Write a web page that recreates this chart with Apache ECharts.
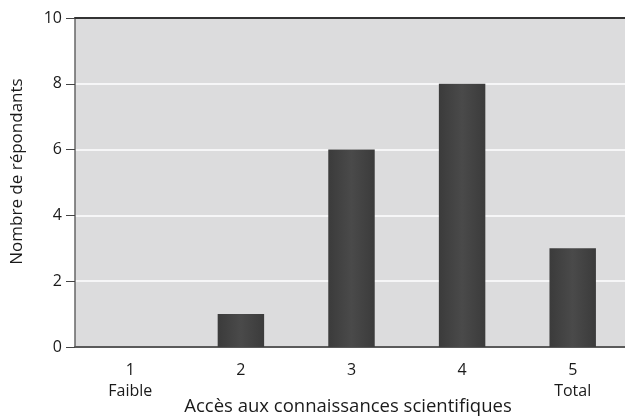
<!DOCTYPE html>
<html><head><meta charset="utf-8">
<script src="https://cdn.jsdelivr.net/npm/echarts@6/dist/echarts.min.js"></script>
<style>html,body{margin:0;padding:0;background:#fff}#c{width:625px;height:418px}</style>
</head><body><div id="c"></div>
<script>
const categories = ['1\nFaible', '2', '3', '4', '5\nTotal'];
const values = [0, 1, 6, 8, 3];
const yTicks = [0, 2, 4, 6, 8, 10];
const xTitle = 'Accès aux connaissances scientifiques';
const yTitle = 'Nombre de répondants';

const font = 'Open Sans';
const chart = echarts.init(document.getElementById('c'), null, {renderer: 'canvas'});
chart.setOption({
  animation: false,
  grid: {left: 75, right: -3, top: 18, bottom: 71, show: true, backgroundColor: '#dcdcdd', borderWidth: 0,
    containLabel: false, outerBoundsMode: 'none'},
  xAxis: [{
    type: 'category', data: categories,
    axisLine: {show: true, lineStyle: {color: '#5a5a5a', width: 2}},
    axisTick: {show: false},
    axisLabel: {color: '#1a1a1a', fontFamily: font, fontSize: 16, lineHeight: 21, margin: 13}
  }, {
    type: 'category', data: categories, position: 'top',
    axisLine: {show: true, lineStyle: {color: '#333', width: 2}},
    axisTick: {show: false}, axisLabel: {show: false}
  }],
  yAxis: {
    type: 'value', min: 0, max: 10, interval: 2,
    axisLine: {show: true, lineStyle: {color: '#666', width: 1.5}},
    axisTick: {show: true, length: 9, lineStyle: {color: '#444'}},
    axisLabel: {color: '#1a1a1a', fontFamily: font, fontSize: 16, margin: 13,
      formatter: v => yTicks.includes(v) ? String(v) : ''},
    splitLine: {show: true, lineStyle: {color: '#ffffff', width: 1.5}}
  },
  graphic: [{
    type: 'text', x: 17, y: 171.5, rotation: Math.PI / 2,
    style: {text: yTitle, fill: '#1a1a1a', font: '17px "Open Sans"', align: 'center', verticalAlign: 'middle'}
  }, {
    type: 'text', x: 348, y: 407,
    style: {text: xTitle, fill: '#1a1a1a', font: '18.5px "Open Sans"', align: 'center', verticalAlign: 'middle'}
  }],
  series: [{
    type: 'bar', data: values, barWidth: '42%',
    itemStyle: {color: new echarts.graphic.LinearGradient(0, 0, 1, 0, [
      {offset: 0, color: '#3b3b3b'}, {offset: 0.5, color: '#4a4a4a'}, {offset: 1, color: '#3b3b3b'}
    ])}
  }]
});
</script></body></html>
